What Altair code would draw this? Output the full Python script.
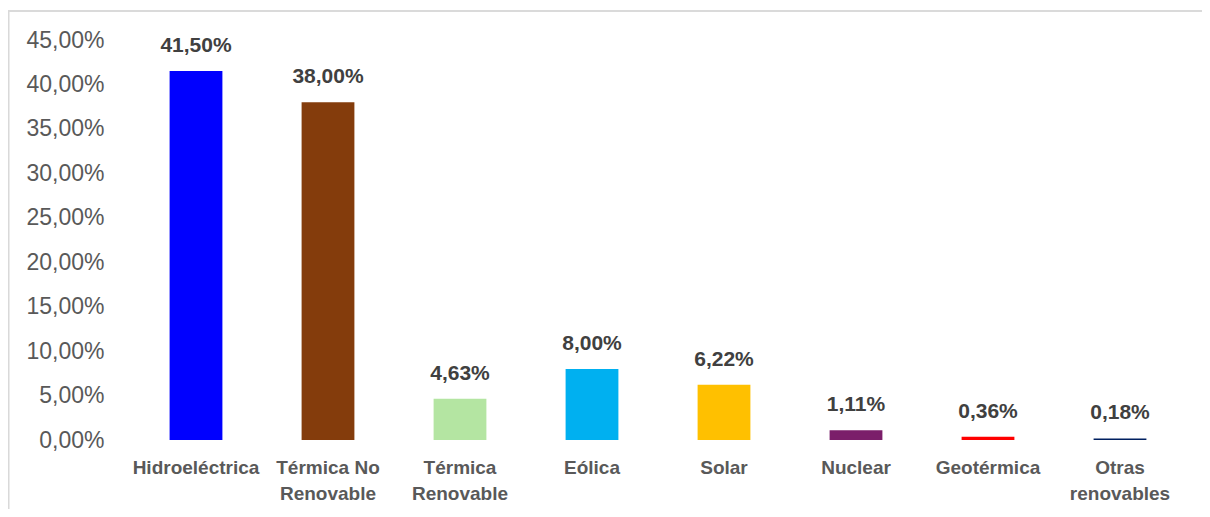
import altair as alt
import pandas as pd

categories = ["Hidroeléctrica", "Térmica No Renovable", "Térmica Renovable", "Eólica",
              "Solar", "Nuclear", "Geotérmica", "Otras renovables"]
values = [41.50, 38.00, 4.63, 8.00, 6.22, 1.11, 0.36, 0.18]
colors = ["#0000FF", "#843C0C", "#B4E5A2", "#00B0F0", "#FFC000", "#7B1E6A", "#FF0000", "#002060"]
label_lines = {
    "Térmica No Renovable": ["Térmica No", "Renovable"],
    "Térmica Renovable": ["Térmica", "Renovable"],
    "Otras renovables": ["Otras", "renovables"],
}
y_ticks = [0, 5, 10, 15, 20, 25, 30, 35, 40, 45]

df = pd.DataFrame({
    "cat": categories,
    "val": values,
    "color": colors,
    "txt": [f"{v:.2f}".replace(".", ",") + "%" for v in values],
})

expr = "datum.label"
for k, lines in label_lines.items():
    arr = "[" + ",".join(f"'{l}'" for l in lines) + "]"
    expr = f"datum.label == '{k}' ? {arr} : ({expr})"

W, H = 1056, 400
PL, PT, PR, PB = 122, 32, 16, 69

x = alt.X("cat:N", sort=categories, title=None,
          scale=alt.Scale(paddingInner=0.6, paddingOuter=0.3),
          axis=alt.Axis(labelAngle=0, labelExpr=expr, labelFont="Liberation Sans",
                        labelFontWeight="bold", labelFontSize=19, labelColor="#595959",
                        labelLineHeight=26, labelPadding=18, ticks=False, domain=False,
                        labelBaseline="top"))
y = alt.Y("val:Q", title=None,
          scale=alt.Scale(domain=[0, 45], nice=False),
          axis=alt.Axis(values=y_ticks, labelExpr="replace(format(datum.value, '.2f'), '.', ',') + '%'",
                        labelFont="Liberation Sans", labelFontSize=23, labelColor="#595959",
                        ticks=False, domain=False, grid=False, labelPadding=26))

base = alt.Chart(df)
bars = base.mark_bar().encode(x=x, y=y, color=alt.Color("color:N", scale=None))
texts = base.mark_text(dy=-19, baseline="alphabetic", font="Liberation Sans",
                       fontWeight="bold", fontSize=21, color="#404040").encode(
    x=alt.X("cat:N", sort=categories), y="val:Q", text="txt:N")

top_line = alt.Chart(df).mark_rule(color="#D9D9D9", strokeWidth=1.2).encode(
    x=alt.value(-PL), x2=alt.value(W + PR), y=alt.value(-29))
left_line = alt.Chart(df).mark_rule(color="#D9D9D9", strokeWidth=1.2).encode(
    x=alt.value(-PL + 0.5), y=alt.value(-29), y2=alt.value(H + PB))

chart = alt.layer(top_line, left_line, bars, texts).properties(
    width=W, height=H,
    autosize=alt.AutoSizeParams(type="none"),
    padding={"left": PL, "top": PT, "right": PR, "bottom": PB},
    background="white",
).configure_view(strokeWidth=0, stroke=None)

chart.save("out.html", embed_options={"renderer": "svg", "actions": False})
